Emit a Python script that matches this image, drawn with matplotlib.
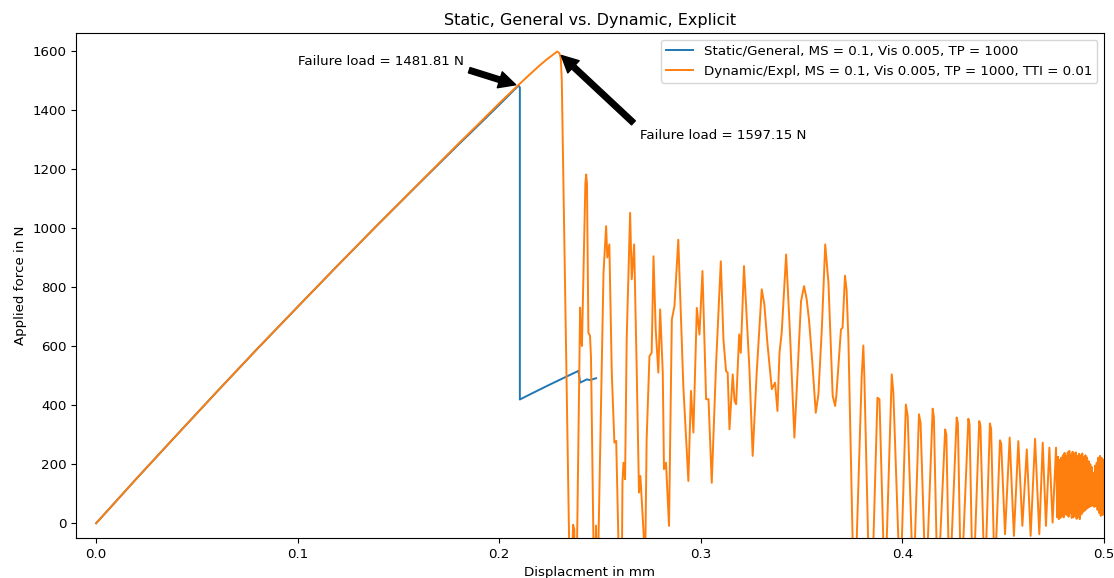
import matplotlib
matplotlib.use("Agg")
import matplotlib.pyplot as plt

# ---------------- data ----------------
static_x = [0.0, 0.02, 0.04, 0.06, 0.08, 0.10, 0.12, 0.14, 0.16, 0.18, 0.19, 0.20,
            0.2095, 0.2102, 0.2102,
            0.2169, 0.2252, 0.2393, 0.2401, 0.2434, 0.2450, 0.2480]
static_y = [0, 151, 299, 446, 591, 733, 874, 1013, 1149, 1284, 1350, 1417,
            1481.81, 1476, 419,
            442, 470, 516, 476, 487, 485, 491]

dyn_x = [0.0, 0.02, 0.04, 0.06, 0.08, 0.10, 0.12, 0.14, 0.16, 0.18, 0.19, 0.20,
         0.205, 0.21, 0.215, 0.22, 0.224, 0.2265, 0.2287, 0.2298, 0.2305, 0.2310,
         0.2346, 0.2355, 0.2366, 0.2372, 0.2379, 0.2386,
         0.2401, 0.2406, 0.2410, 0.2427, 0.2431, 0.2435, 0.2442, 0.2450, 0.2455, 0.2467,
         0.2472, 0.2480, 0.2485, 0.2492,
         0.2517, 0.2530, 0.2536, 0.2546, 0.2558, 0.2571, 0.2580, 0.2591,
         0.2600, 0.2609, 0.2611, 0.2616, 0.2624, 0.2632, 0.2649, 0.2657, 0.2669, 0.2682, 0.2693,
         0.2700, 0.2718, 0.2721, 0.2725,
         0.2731, 0.2745, 0.2756, 0.2765, 0.2776, 0.2789, 0.2798, 0.2811, 0.2817, 0.2827, 0.2842,
         0.2856, 0.2869, 0.2888, 0.2913, 0.2938, 0.2951, 0.2963, 0.2980, 0.2993, 0.3008, 0.3026,
         0.3038, 0.3054, 0.3075, 0.3099, 0.3112, 0.3125, 0.3133, 0.3142, 0.3158, 0.3167, 0.3175,
         0.3190, 0.3198, 0.3214, 0.3241, 0.3257, 0.3277, 0.3302, 0.3315, 0.3330, 0.3352, 0.3368,
         0.3380, 0.3390, 0.3401, 0.3423, 0.3442, 0.3464, 0.3475, 0.3497, 0.3512, 0.3525, 0.3537,
         0.3553, 0.3570, 0.3583, 0.3600, 0.3617, 0.3633, 0.3654, 0.3666, 0.3672, 0.3695, 0.3703,
         0.3715, 0.3723, 0.3732,
         0.3753, 0.3763, 0.3773,
         0.3798, 0.3806, 0.3811,
         0.3830, 0.3843, 0.3856,
         0.3876, 0.3886,
         0.3905, 0.3913, 0.3922,
         0.3947, 0.3955,
         0.3980, 0.3988, 0.3997,
         0.4017, 0.4026,
         0.4046, 0.4054, 0.4062,
         0.4082, 0.4090,
         0.4108, 0.4117, 0.4126,
         0.4150, 0.4156,
         0.4169, 0.4178, 0.4187,
         0.4212, 0.4218,
         0.4228, 0.4236, 0.4244,
         0.4269, 0.4275,
         0.4286, 0.4294, 0.4302,
         0.4327, 0.4333,
         0.4344, 0.4352, 0.4360,
         0.4381, 0.4387,
         0.4402, 0.4409, 0.4416,
         0.4434, 0.4440,
         0.4453, 0.4459, 0.4465,
         0.4484, 0.4490, 0.4509,
         0.4532, 0.4553, 0.4575, 0.4595, 0.4617, 0.4636, 0.4658, 0.4679, 0.4696, 0.4712,
         0.4729, 0.4745, 0.4762,
         0.4768, 0.4772, 0.4776, 0.4780, 0.4784, 0.4788, 0.4792, 0.4796, 0.4800, 0.4804,
         0.4808, 0.4812, 0.4816, 0.4820, 0.4824, 0.4828, 0.4832, 0.4836, 0.4840, 0.4844,
         0.4848, 0.4852, 0.4856, 0.4860, 0.4864, 0.4868, 0.4872, 0.4876, 0.4880, 0.4884,
         0.4888, 0.4892, 0.4896, 0.4900, 0.4904, 0.4908, 0.4912, 0.4916, 0.4920, 0.4924,
         0.4928, 0.4932, 0.4936, 0.4940, 0.4944, 0.4948, 0.4952, 0.4956, 0.4960, 0.4964,
         0.4968, 0.4972, 0.4976, 0.4980, 0.4984, 0.4988, 0.4992, 0.4996, 0.5000]
dyn_y = [0, 151, 299, 446, 591, 733, 874, 1013, 1150, 1287, 1354, 1422,
         1455, 1487, 1519, 1550, 1573, 1586, 1597.15, 1592, 1575, 1500,
         -43, -300, -5, -20, -300, -60,
         730, 620, 600, 1150, 1181, 1150, 645, 635, 560, -60,
         -250, -8, -250, -60,
         848, 1006, 900, 944, 510, 273, 279, -60,
         -250, -60, 138, 205, 149, 622, 1051, 826, 944, 510, 104,
         160, -60, -250, -60,
         284, 566, 577, 904, 656, 510, 724, 510, 183, 205, -9,
         690, 735, 960, 464, 143, 448, 307, 729, 639, 854, 420,
         420, 137, 532, 887, 622, 515, 510, 318, 504, 414, 403,
         639, 577, 871, 521, 228, 510, 792, 741, 611, 454, 476,
         380, 577, 645, 910, 645, 290, 442, 752, 803, 758, 685,
         544, 374, 436, 656, 944, 814, 431, 397, 431, 656, 662,
         838, 790, 622,
         -60, -250, -60,
         499, 602, 499,
         -60, -250, -60,
         425, 420,
         -60, -250, -60,
         504, 442,
         -60, -250, -60,
         402, 363,
         -60, -250, -60,
         369, 340,
         -60, -250, -60,
         388, 360,
         -60, -250, -60,
         318, 300,
         -60, -250, -60,
         358, 340,
         -60, -250, -60,
         354, 335,
         -60, -250, -60,
         346, 330,
         -60, -250, -60,
         338, 320,
         -60, -200, -60,
         281, 270, -37,
         290, -43, 278, -9, 250, -43, 286, -37, 273, -9,
         256, 2, 256,
         20, 225, 14, 215, 18, 222, 25, 230, 20, 238,
         30, 228, 28, 240, 22, 245, 35, 232, 18, 242,
         20, 236, 26, 240, 15, 228, 22, 235, 14, 230,
         30, 236, 38, 225, 42, 230, 48, 222, 52, 210,
         55, 200, 58, 190, 60, 171, 55, 195, 58, 205,
         45, 222, 35, 228, 25, 222, 28, 215, 30]

static_label = "Static/General, MS = 0.1, Vis 0.005, TP = 1000"
dyn_label = "Dynamic/Expl, MS = 0.1, Vis 0.005, TP = 1000, TTI = 0.01"

fail_static = 1481.81
fail_dyn = 1597.15

# ---------------- plot ----------------
plt.rcParams["font.size"] = 9.6
DPI = 100
fig = plt.figure(figsize=(1114 / DPI, 578 / DPI), dpi=DPI)
ax = fig.add_axes([76 / 1114, 1 - 538 / 578, (1104 - 76) / 1114, (538 - 33) / 578])

ax.plot(static_x, static_y, color="#1f77b4", lw=1.4, label=static_label)
ax.plot(dyn_x, dyn_y, color="#ff7f0e", lw=1.4, label=dyn_label)

ax.annotate(f"Failure load = {fail_static} N", xy=(0.2095, fail_static),
            xytext=(0.1, 1550), arrowprops=dict(facecolor="black", shrink=0.05))
ax.annotate(f"Failure load = {fail_dyn} N", xy=(0.2287, fail_dyn),
            xytext=(0.27, 1300), arrowprops=dict(facecolor="black", shrink=0.05))

ax.set_xlim(-0.01, 0.5)
ax.set_ylim(-50, 1660)
ax.set_title("Static, General vs. Dynamic, Explicit")
ax.set_xlabel("Displacment in mm")
ax.set_ylabel("Applied force in N")
ax.legend(loc="upper right")

fig.savefig("out.png", dpi=DPI)
